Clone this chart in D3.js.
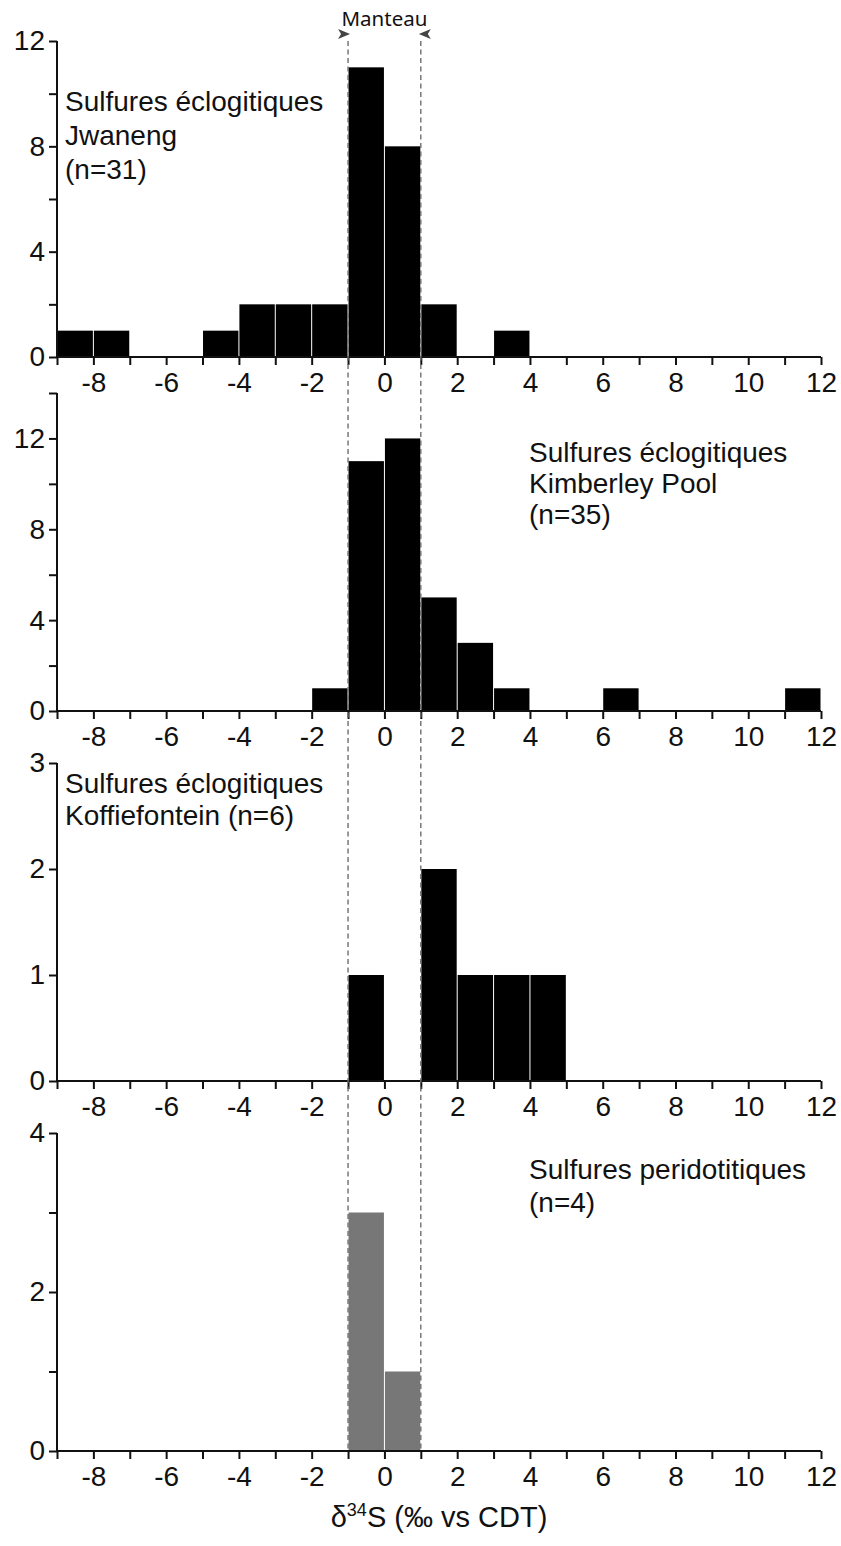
<!DOCTYPE html>
<html><head><meta charset="utf-8">
<script src="https://cdn.jsdelivr.net/npm/d3@7"></script>
<style>
body{margin:0;background:#fff;}
svg text{font-family:"Liberation Sans",Arial,Helvetica,sans-serif;fill:#111;}
</style></head>
<body><svg id="chart" width="841" height="1546"></svg>
<script>
// bin lower edges (width 1, ‰)
const binStarts = [-9,-8,-7,-6,-5,-4,-3,-2,-1,0,1,2,3,4,5,6,7,8,9,10,11];
// counts per bin
const jwaneng      = [1,1,0,0,1,2,2,2,11,8,2,0,1,0,0,0,0,0,0,0,0];
const kimberley    = [0,0,0,0,0,0,0,1,11,12,5,3,1,0,0,1,0,0,0,0,1];
const koffiefontein= [0,0,0,0,0,0,0,0,1,0,2,1,1,1,0,0,0,0,0,0,0];
const peridotitic  = [0,0,0,0,0,0,0,0,3,1,0,0,0,0,0,0,0,0,0,0,0];
const xTickLabels = [-8,-6,-4,-2,0,2,4,6,8,10,12];
const xTicks = [-9,-8,-7,-6,-5,-4,-3,-2,-1,0,1,2,3,4,5,6,7,8,9,10,11,12];
const yMaxes = [12,14,3,4];
const yTicks = [[0,2,4,6,8,10,12],[0,2,4,6,8,10,12,14],[0,1,2,3],[0,1,2,3,4]];
const yTickLabels = [[0,4,8,12],[0,4,8,12],[0,1,2,3],[0,2,4]];
const panelTexts = [
  ["Sulfures éclogitiques","Jwaneng","(n=31)"],
  ["Sulfures éclogitiques","Kimberley Pool","(n=35)"],
  ["Sulfures éclogitiques","Koffiefontein (n=6)"],
  ["Sulfures peridotitiques","(n=4)"]
];
const mantleRange = [-1, 1];
const mantleLabel = "Manteau";

const series = [jwaneng, kimberley, koffiefontein, peridotitic];
const fills = ["#000","#000","#000","#777"];
const panels = [[41,357],[393,711],[763,1081],[1133,1451]];
const textPos = [[65,111,34],[529,462,31],[65,793,32],[529,1179,33]];

const svg = d3.select("#chart");
const x = d3.scaleLinear().domain([-9,12]).range([57,821]);

panels.forEach((p,i)=>{
  const y = d3.scaleLinear().domain([0,yMaxes[i]]).range([p[1],p[0]]);
  const g = svg.append("g");
  const data = binStarts.map((b,j)=>({lo:b,hi:b+1,v:series[i][j]})).filter(d=>d.v>0);
  g.selectAll("rect").data(data).join("rect")
    .attr("x",d=>x(d.lo)+0.5).attr("width",d=>x(d.hi)-x(d.lo)-1)
    .attr("y",d=>y(d.v)).attr("height",d=>y(0)-y(d.v))
    .attr("fill",fills[i]);
  // y axis
  const ya = d3.axisLeft(y).tickValues(yTicks[i]).tickSize(8).tickPadding(4)
    .tickFormat(d=>yTickLabels[i].includes(d)?d:"");
  const yg = g.append("g").attr("transform",`translate(${x(-9)},0)`).call(ya);
  yg.select(".domain").attr("stroke","#111").attr("stroke-width",2).attr("d",`M-0,${y(yMaxes[i])}V${y(0)}`);
  yg.selectAll(".tick line").attr("stroke","#111").attr("stroke-width",2);
  yg.selectAll(".tick text").attr("font-size",28).attr("font-family","Liberation Sans, Arial, sans-serif").attr("fill","#111");
  // x axis
  const xa = d3.axisBottom(x).tickValues(xTicks).tickSize(8).tickPadding(7)
    .tickFormat(d=>xTickLabels.includes(d)?d:"");
  const xg = g.append("g").attr("transform",`translate(0,${y(0)})`).call(xa);
  xg.select(".domain").attr("stroke","#111").attr("stroke-width",2).attr("d",`M${x(-9)},0H${x(12)}`);
  xg.selectAll(".tick line").attr("stroke","#111").attr("stroke-width",2);
  xg.selectAll(".tick text").attr("font-size",28).attr("font-family","Liberation Sans, Arial, sans-serif").attr("fill","#111");
  // annotation
  const tp = textPos[i];
  panelTexts[i].forEach((t,k)=>{
    g.append("text").attr("x",tp[0]).attr("y",tp[1]+k*tp[2]).attr("font-size",28).text(t);
  });
});

// mantle dashed lines (on top)
const dashG = svg.append("g");
mantleRange.forEach(v=>{
  dashG.append("line").attr("x1",x(v)).attr("x2",x(v)).attr("y1",41).attr("y2",panels[3][1])
    .attr("stroke","#6e6e6e").attr("stroke-width",1.4).attr("stroke-dasharray","5,3.5");
});

// mantle label and arrows
svg.append("text").attr("x",(x(-1)+x(1))/2).attr("y",26).attr("text-anchor","middle")
  .attr("font-size",20.5).style("font-family","'Noto Sans','Open Sans',sans-serif").text(mantleLabel);
const ay = 34;
svg.append("path").attr("d",`M${x(-1)+2},${ay} L${x(-1)-10},${ay-5} L${x(-1)-7},${ay} L${x(-1)-10},${ay+5} Z`).attr("fill","#444");
svg.append("path").attr("d",`M${x(1)-2},${ay} L${x(1)+10},${ay-5} L${x(1)+7},${ay} L${x(1)+10},${ay+5} Z`).attr("fill","#444");

// x axis title
const title = svg.append("text").attr("x",(x(-9)+x(12))/2).attr("y",1527).attr("text-anchor","middle").attr("font-size",29);
title.append("tspan").text("δ");
title.append("tspan").attr("font-size",18).attr("dy",-11).text("34");
title.append("tspan").attr("dy",11).text("S (‰ vs CDT)");
</script></body></html>
